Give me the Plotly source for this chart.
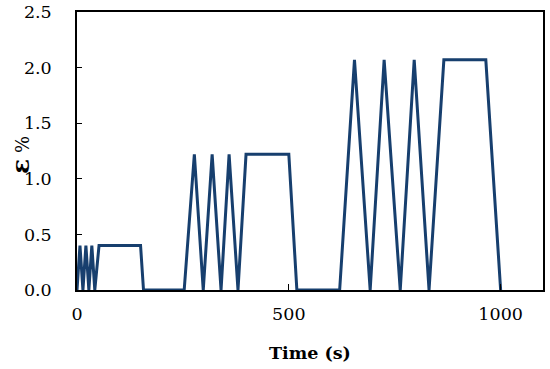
import plotly.graph_objects as go

# Time (s) and strain (%) breakpoints
time_s = [0, 7, 14, 21, 28, 35, 42, 52, 150, 157,
          253, 277, 298, 319, 340, 359, 380, 399, 500, 519,
          620, 655, 692, 725, 763, 796, 831, 866, 965, 1000]
strain_pct = [0, 0.40, 0, 0.40, 0, 0.40, 0, 0.40, 0.40, 0,
              0, 1.22, 0, 1.22, 0, 1.22, 0, 1.22, 1.22, 0,
              0, 2.07, 0, 2.07, 0, 2.07, 0, 2.07, 2.07, 0]

x_ticks = [0, 500, 1000]
y_ticks = [0.0, 0.5, 1.0, 1.5, 2.0, 2.5]
y_tick_labels = ["0.0", "0.5", "1.0", "1.5", "2.0", "2.5"]

font = "DejaVu Serif"

fig = go.Figure()
fig.add_trace(go.Scatter(x=time_s, y=strain_pct, mode="lines",
                         line=dict(color="#173F6E", width=3),
                         showlegend=False, hoverinfo="skip"))

fig.update_layout(
    width=550, height=369,
    margin=dict(l=77, r=7, t=12, b=79),
    paper_bgcolor="white", plot_bgcolor="white",
    font=dict(family=font, size=17.5, color="black"),
)
fig.update_xaxes(
    range=[0, 1100], tickvals=x_ticks, ticks="inside", ticklen=6,
    tickcolor="black", showline=True, linecolor="black", linewidth=1.5,
    mirror=True, showgrid=False, zeroline=False, automargin=False,
    ticklabelstandoff=7, ticklabeloverflow="allow",
)
fig.update_yaxes(
    range=[0, 2.5], tickvals=y_ticks, ticktext=y_tick_labels, ticks="inside", ticklen=5,
    tickcolor="black", showline=True, linecolor="black", linewidth=1.5,
    mirror=True, showgrid=False, zeroline=False, automargin=False,
    ticklabelstandoff=20, ticklabeloverflow="allow",
)
fig.add_annotation(text="<b>Time (s)</b>", xref="paper", yref="paper",
                   x=0.5, y=-0.227, xanchor="center", yanchor="middle",
                   showarrow=False, font=dict(family=font, size=17.5))
fig.add_annotation(text="<span style='font-size:25px'><b>ε</b></span> %",
                   xref="paper", yref="paper",
                   x=-0.12, y=0.486, xanchor="center", yanchor="middle", textangle=-90,
                   showarrow=False, font=dict(family=font, size=18))

fig.write_html("out.html", config={"displayModeBar": False},
               post_script="document.body.style.margin='0';")
